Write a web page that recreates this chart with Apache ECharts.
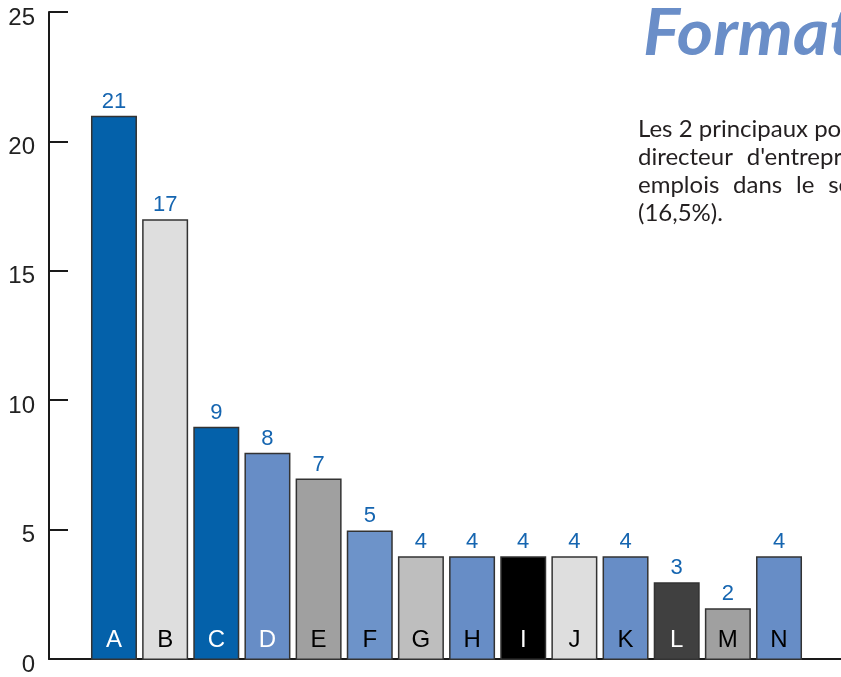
<!DOCTYPE html>
<html>
<head>
<meta charset="utf-8">
<script src="https://cdn.jsdelivr.net/npm/echarts@6/dist/echarts.min.js"></script>
<style>
  html, body { margin: 0; padding: 0; background: #fff; }
  #chart { width: 841px; height: 677px; }
</style>
</head>
<body>
<div id="chart"></div>
<script>
// Categories and counts per category
const categories = ['A', 'B', 'C', 'D', 'E', 'F', 'G', 'H', 'I', 'J', 'K', 'L', 'M', 'N'];
const counts = [21, 17, 9, 8, 7, 5, 4, 4, 4, 4, 4, 3, 2, 4];
const barColors = ['#0461aa', '#dedede', '#0461aa', '#678dc6', '#a0a0a0', '#6d93c9', '#bebebe',
                   '#678dc6', '#000000', '#dedede', '#678dc6', '#404040', '#a0a0a0', '#678dc6'];
const letterColors = ['#ffffff', '#000000', '#ffffff', '#ffffff', '#000000', '#000000', '#000000',
                      '#000000', '#ffffff', '#000000', '#000000', '#ffffff', '#000000', '#000000'];
const yTicks = [0, 5, 10, 15, 20, 25];

const heading = 'Formations';
// Justified paragraph, one entry per line (extra spacing imitates justification)
const paragraph = [
  'Les 2 principaux postes occupés sont',
  'directeur  \u200Ad\'entreprise  \u200A(21%)  \u200Aet  \u200Ales',
  'emplois  \u200Adans  \u200Ale  \u200Asecteur  \u200Acommercial',
  '(16,5%).'
];

const chart = echarts.init(document.getElementById('chart'), null, { renderer: 'canvas' });

const axisColor = '#1a1a1a';

chart.setOption({
  animation: false,
  backgroundColor: '#ffffff',
  grid: [
    { left: 49, right: 0, top: 12, bottom: 17 },
    { left: 88.4, right: 36.4, top: 12, bottom: 17 }
  ],
  xAxis: [
    {
      gridIndex: 0, type: 'value', min: 0, max: 1,
      axisLine: { show: true, lineStyle: { color: axisColor, width: 2 } },
      axisTick: { show: false }, axisLabel: { show: false }, splitLine: { show: false }
    },
    {
      gridIndex: 1, type: 'category', data: categories.map((c, i) => ({
        value: c, textStyle: { color: letterColors[i] }
      })),
      z: 10,
      axisLine: { show: false }, axisTick: { show: false }, splitLine: { show: false },
      axisLabel: {
        inside: true, margin: 8, interval: 0,
        fontFamily: 'Liberation Sans', fontSize: 24
      }
    }
  ],
  yAxis: [
    {
      gridIndex: 0, type: 'value', min: yTicks[0], max: yTicks[yTicks.length - 1], interval: 5,
      axisLine: { show: true, lineStyle: { color: axisColor, width: 2 } },
      axisTick: { show: true, inside: true, length: 19, lineStyle: { color: axisColor, width: 2 } },
      axisLabel: {
        margin: 14, color: '#222', fontFamily: 'Liberation Sans', fontSize: 24,
        verticalAlign: 'top', lineHeight: 12
      },
      splitLine: { show: false }
    },
    {
      gridIndex: 1, type: 'value', min: 0, max: 25, show: false
    }
  ],
  series: [{
    type: 'bar',
    xAxisIndex: 1, yAxisIndex: 1,
    barWidth: 46,
    data: counts.map((v, i) => ({
      value: v,
      itemStyle: { color: barColors[i] }
    })),
    itemStyle: { borderColor: '#333', borderWidth: 1.5 },
    label: {
      show: true, position: 'top', distance: 3,
      color: '#1565b0', fontFamily: 'Liberation Sans', fontSize: 22
    }
  }],
  graphic: [
    {
      type: 'text', x: 643, y: 2, scaleX: 1.07,
      style: {
        text: heading, fill: '#6a8ec8',
        font: 'italic bold 65px Lato'
      }
    },
    ...paragraph.map((line, i) => ({
      type: 'text', x: 638, y: 117 + i * 28,
      style: { text: line, fill: '#231f20', font: '24px Lato' }
    }))
  ]
});
</script>
</body>
</html>
